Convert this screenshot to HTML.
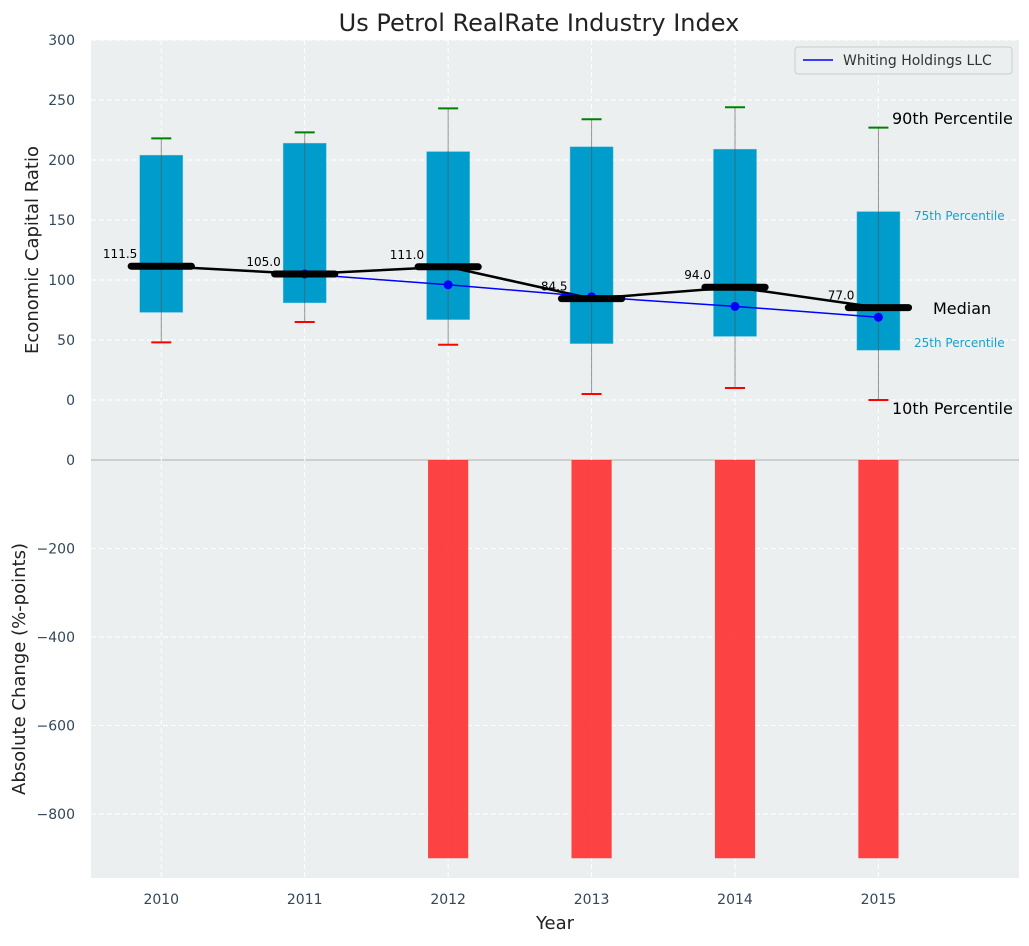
<!DOCTYPE html>
<html><head><meta charset="utf-8"><style>
body{margin:0;background:#fff;font-family:"DejaVu Sans","Liberation Sans",sans-serif}
</style></head><body>
<svg id="c" width="1029" height="942" xmlns="http://www.w3.org/2000/svg"></svg>
<script>
const years=["2010","2011","2012","2013","2014","2015"];
const p10=[48,65,46,5,10,0];
const q1=[73,81,67,47,53,41.5];
const med=[111.5,105,111,84.5,94,77];
const q3=[204,214,207,211,209,157];
const p90=[218,223,243,234,244,227];
const company=[null,105,96,86,78,69];
const change=[null,null,-900,-900,-900,-900];
const topTicks=[0,50,100,150,200,250,300];
const botTicks=[0,-200,-400,-600,-800];

const NS="http://www.w3.org/2000/svg",svg=document.getElementById('c');
function el(t,a,p){const e=document.createElementNS(NS,t);for(const k in a)e.setAttribute(k,a[k]);(p||svg).appendChild(e);return e;}
const L=91,R=1019;
const X=i=>L+(i+0.49)*(R-L)/6.47;
const Yt=v=>400-v*1.2;
const Yb=v=>460-v*0.4425;
const ux=(R-L)/6.47;

let e;
e=el('rect',{x:L,y:40,width:R-L,height:420,fill:'#ebeff0'});

e=el('rect',{x:L,y:460,width:R-L,height:418,fill:'#ebeff0'});

topTicks.forEach(v=>{el('line',{x1:L,x2:R,y1:Yt(v),y2:Yt(v),stroke:'#fff','stroke-dasharray':'5,3'});
 e=el('text',{x:75,y:Yt(v)+5,'text-anchor':'end','font-size':14,fill:'#33475b'});e.textContent=v;
 });
botTicks.forEach(v=>{el('line',{x1:L,x2:R,y1:Yb(v),y2:Yb(v),stroke:'#fff','stroke-dasharray':'5,3'});
 e=el('text',{x:75,y:Yb(v)+5,'text-anchor':'end','font-size':14,fill:'#33475b'});e.textContent=v<0?'\u2212'+(-v):v;
 });
el('line',{x1:L,x2:R,y1:460,y2:460,stroke:'#b0b0b0'});
years.forEach((y,i)=>{
 el('line',{x1:X(i),x2:X(i),y1:40,y2:878,stroke:'#fff','stroke-dasharray':'5,3'});
 e=el('text',{x:X(i),y:904,'text-anchor':'middle','font-size':14,fill:'#33475b'});e.textContent=y;
 
});
years.forEach((y,i)=>{
 const x=X(i),w=0.3*ux;
 e=el('rect',{x:x-w/2,y:Yt(q3[i]),width:w,height:Yt(q1[i])-Yt(q3[i]),fill:'#009ccb',stroke:'#5cc3e0','stroke-width':0.5});
 
 el('line',{x1:x,x2:x,y1:Yt(p90[i]),y2:Yt(p10[i]),stroke:'#555','stroke-opacity':0.6});
 e=el('line',{x1:x-10,x2:x+10,y1:Yt(p90[i]),y2:Yt(p90[i]),stroke:'green','stroke-width':2});
 
 e=el('line',{x1:x-10,x2:x+10,y1:Yt(p10[i]),y2:Yt(p10[i]),stroke:'red','stroke-width':2});
 
 if(change[i]!==null){e=el('rect',{x:x-0.14*ux,y:Yb(0),width:0.28*ux,height:Yb(change[i])-Yb(0),fill:'#ff2a2a','fill-opacity':0.88});
  }
});
e=el('polyline',{points:med.map((v,i)=>X(i)+','+Yt(v)).join(' '),fill:'none',stroke:'#000','stroke-width':2.5});

const cp=company.map((v,i)=>v===null?null:[X(i),Yt(v)]).filter(p=>p);
e=el('polyline',{points:cp.map(p=>p.join(',')).join(' '),fill:'none',stroke:'#0000ff','stroke-width':1.5});

cp.forEach(p=>{e=el('circle',{cx:p[0],cy:p[1],r:4.5,fill:'#0000ff'});});
med.forEach((v,i)=>{
 e=el('line',{x1:X(i)-0.21*ux,x2:X(i)+0.21*ux,y1:Yt(v),y2:Yt(v),stroke:'#000','stroke-width':7,'stroke-linecap':'round'});
 
 e=el('text',{x:X(i)-24,y:Yt(v)-8,'text-anchor':'end','font-size':12,fill:'#000'});e.textContent=v.toFixed(1);
 
});
[[892,124,'90th Percentile',16,'#000'],[914,220,'75th Percentile',12,'#1a9fcc'],[933,314,'Median',16,'#000'],[914,347,'25th Percentile',12,'#1a9fcc'],[892,414,'10th Percentile',16,'#000']].forEach(a=>{
 e=el('text',{x:a[0],y:a[1],'font-size':a[3],fill:a[4]});e.textContent=a[2];
 });
const g=el('g',{});
el('rect',{x:795,y:47,width:217,height:27,rx:3,fill:'#ebeff0',stroke:'#ccc'},g);
el('line',{x1:803,x2:833,y1:60,y2:60,stroke:'#0000ff','stroke-width':1.5},g);
e=el('text',{x:843,y:65,'font-size':14,fill:'#333'},g);e.textContent='Whiting Holdings LLC';
e=el('text',{x:539,y:31,'text-anchor':'middle','font-size':24,fill:'#222'});e.textContent='Us Petrol RealRate Industry Index';

e=el('text',{x:555,y:929,'text-anchor':'middle','font-size':18,fill:'#222'});e.textContent='Year';

e=el('text',{x:0,y:0,'text-anchor':'middle','font-size':18,fill:'#222',transform:'translate(38,250) rotate(-90)'});e.textContent='Economic Capital Ratio';

e=el('text',{x:0,y:0,'text-anchor':'middle','font-size':18,fill:'#222',transform:'translate(25,669) rotate(-90)'});e.textContent='Absolute Change (%-points)';

</script>
</body></html>
